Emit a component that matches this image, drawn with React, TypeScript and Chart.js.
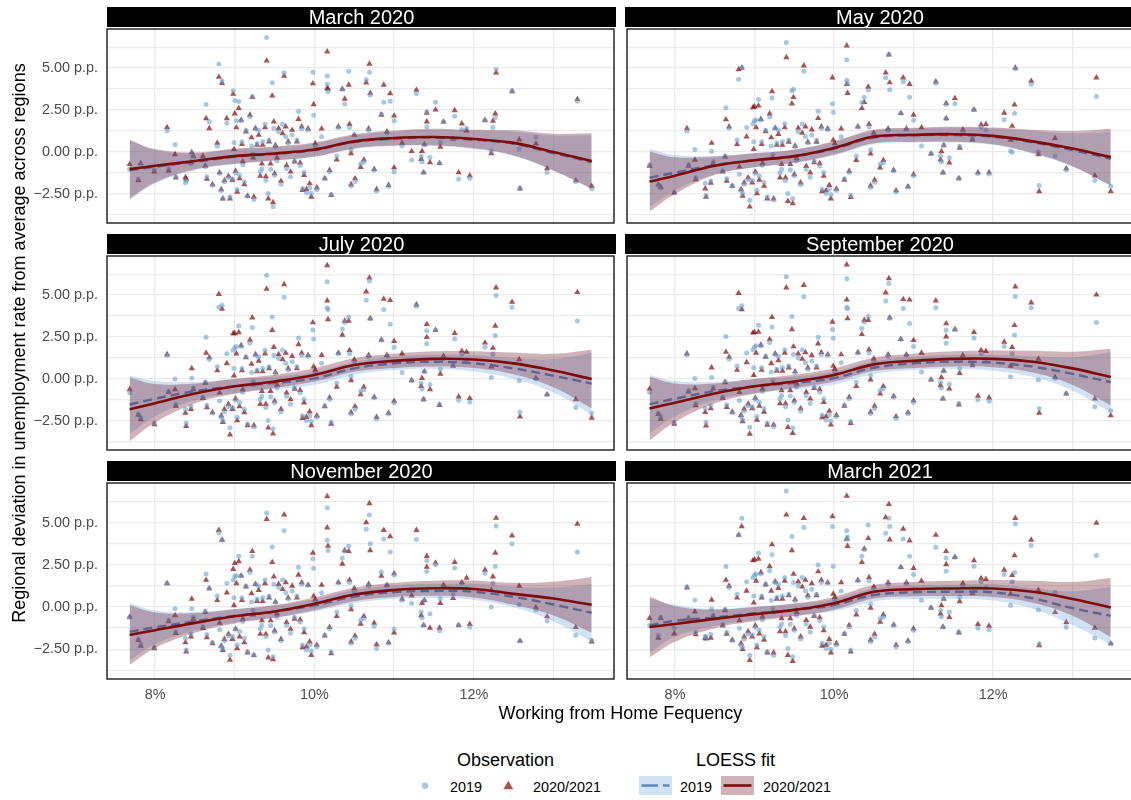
import React, { useEffect, useRef } from "react";
import { Chart, registerables } from "chart.js";
Chart.register(...registerables);

const FONT = '"Liberation Sans", Arial, Helvetica, sans-serif';
Chart.defaults.font.family = FONT;

// ---------- data ----------
const PANEL_TITLES = ["March 2020", "May 2020", "July 2020", "September 2020", "November 2020", "March 2021"];
const X_MIN = 7.396;
const X_MAX = 13.76;
const Y_MIN = -4.26;
const Y_MAX = 7.34;
const X_TICK_LABELS = ["8%", "10%", "12%"];
const LEGEND_OBS = ["2019", "2020/2021"];
const LEGEND_FIT = ["2019", "2020/2021"];

// Working from home frequency (%) of each region
const REGION_X = [
  7.68, 7.79, 7.82, 7.99, 8.15, 8.17, 8.25, 8.26, 8.38, 8.39,
  8.46, 8.45, 8.48, 8.60, 8.64, 8.63, 8.65, 8.68, 8.72, 8.78,
  8.80, 8.84, 8.81, 8.83, 8.85, 8.87, 8.90, 8.92, 8.94, 8.97,
  8.98, 9.00, 8.99, 9.01, 9.02, 9.03, 9.05, 9.06, 9.08, 9.09,
  9.10, 9.12, 9.14, 9.16, 9.19, 9.21, 9.22, 9.23, 9.24, 9.26,
  9.28, 9.30, 9.32, 9.34, 9.35, 9.38, 9.39, 9.40, 9.42, 9.43,
  9.45, 9.47, 9.48, 9.49, 9.50, 9.51, 9.53, 9.55, 9.58, 9.60,
  9.62, 9.64, 9.65, 9.67, 9.70, 9.72, 9.75, 9.78, 9.80, 9.82,
  9.84, 9.85, 9.87, 9.90, 9.92, 9.94, 9.96, 9.98, 9.99, 10.01,
  10.03, 10.09, 10.13, 10.16, 10.16, 10.17, 10.19, 10.21, 10.28, 10.30,
  10.35, 10.38, 10.43, 10.44, 10.46, 10.46, 10.50, 10.51, 10.58, 10.62,
  10.65, 10.68, 10.69, 10.70, 10.75, 10.78, 10.84, 10.87, 10.91, 10.93,
  10.95, 11.00, 11.00, 11.10, 11.22, 11.28, 11.34, 11.35, 11.37, 11.38,
  11.41, 11.41, 11.45, 11.52, 11.57, 11.58, 11.62, 11.74, 11.76, 11.81,
  11.85, 11.91, 11.95, 12.14, 12.22, 12.24, 12.28, 12.27, 12.48, 12.57,
  12.58, 12.78, 12.92, 13.28, 13.30, 13.48,
];

// March 2020
const MAR20_Y20 = [
  -0.75, -1.72, -0.69, -1.20, 1.46, -1.14, -0.16, -1.55, -1.53, -1.63,
  -0.03, -0.65, -0.26, -0.26, 1.99, -0.85, -1.63, 1.40, -1.95, 0.52,
  4.47, 4.10, -1.24, -2.25, -2.80, -1.72, 1.99, -1.45, -2.80, -1.70,
  3.45, 2.28, 0.15, -1.15, 1.45, -2.40, 2.60, -1.60, 1.90, 0.45,
  -0.60, -1.95, 1.20, -2.65, 2.20, 0.85, 3.26, -0.35, -2.70, 1.40,
  0.40, 1.00, -1.45, -0.72, 0.40, 1.45, -1.48, 5.44, -2.80, 0.60,
  -0.72, 3.35, -3.03, 1.80, -1.30, 0.38, -0.35, 1.40, -1.75, 1.10,
  4.53, 1.50, -0.82, 0.60, -1.20, 1.30, -0.60, 0.60, 1.95, -0.66,
  1.50, -2.30, -1.40, -2.25, 1.38, -1.90, -2.70, 4.08, 2.83, 0.50,
  -2.15, 1.38, -1.60, 5.99, 3.80, 3.75, -1.10, -2.60, -0.48, 1.50,
  3.74, 3.16, 4.00, 1.65, -0.10, -1.95, 1.00, -1.60, -0.92, -0.48,
  4.13, 1.38, 5.25, 3.50, -1.05, -2.25, 2.20, 4.00, 1.20, -2.00,
  3.49, 2.15, -0.94, 0.52, 0.03, 3.69, -0.45, 0.04, -1.24, 0.43,
  1.80, 2.32, -0.64, 2.51, -0.69, 0.29, 1.79, 0.76, 2.47, -1.24,
  1.68, 1.26, -1.43, 1.89, -0.10, 1.84, 4.72, 2.28, 3.61, 0.72,
  -2.21, 0.48, -1.00, -1.72, 3.14, -2.06,
];
const MAR20_Y19 = [
  -1.04, -1.63, -0.75, -1.08, 1.26, -1.00, 0.42, -1.50, -1.86, -1.72,
  -0.10, -0.70, -0.30, -0.46, 2.83, -0.90, -1.50, 1.79, -2.00, 0.33,
  5.25, 4.23, -1.30, -2.31, -2.80, -1.80, 1.70, -1.55, -2.70, -1.65,
  3.65, 3.06, 0.55, -1.25, 1.85, -2.25, 3.00, -1.40, 1.85, 0.60,
  -0.78, -1.80, 1.28, -2.65, 2.10, 0.35, 3.30, -0.15, -2.85, 1.38,
  0.50, 1.28, -1.20, -1.02, 0.60, 1.65, -1.70, 6.83, -2.50, 0.70,
  -1.05, 4.13, -3.29, 1.40, -1.40, 0.32, -0.55, 1.20, -1.95, 1.65,
  4.72, 0.90, -1.02, 0.52, -1.50, 1.00, -0.55, 0.70, 2.40, -0.82,
  1.38, -2.20, -1.22, -2.45, 1.32, -2.15, -2.50, 4.76, 2.18, 0.32,
  -2.25, 0.90, -1.60, 4.53, 4.04, 3.60, -1.20, -2.55, -0.25, 1.45,
  3.74, 2.86, 4.82, 1.45, 0.12, -2.05, 1.00, -1.78, -0.72, -0.62,
  4.30, 1.28, 4.76, 3.40, -1.10, -2.35, 2.25, 2.96, 1.14, -2.08,
  3.02, 1.85, -1.20, 0.36, -0.50, 3.49, -0.25, -0.60, -1.24, 0.42,
  1.50, 2.38, -0.35, 2.96, -0.69, 0.55, 1.79, 0.80, 2.12, -1.63,
  1.33, 1.40, -1.59, 1.89, 0.05, 1.45, 4.92, 2.05, 3.65, 0.17,
  -2.17, 0.87, -1.24, -1.78, 3.02, -2.21,
];

// May 2020
const MAY20_Y20 = [
  -0.85, -1.96, -2.10, -2.45, 1.40, -0.85, -0.49, -1.65, -2.21, -2.70,
  0.52, -1.86, -0.70, -1.20, 1.93, -0.30, -1.75, 1.50, -2.05, 0.45,
  4.92, 5.01, -0.90, -2.25, -2.65, -1.85, 0.90, -1.55, -3.29, -1.85,
  2.65, 2.70, 0.15, -1.20, 1.45, -2.50, 2.75, -1.68, 1.95, 0.45,
  -0.68, -2.05, 1.22, -2.80, 2.28, 0.85, 3.61, -0.38, -2.80, 1.42,
  0.40, 1.05, -1.55, -0.75, 0.40, 1.45, -1.55, 5.64, -2.95, 0.58,
  -0.75, 2.88, -3.09, 3.26, -1.35, 0.35, -0.38, 1.42, -1.85, 1.12,
  5.15, 1.50, -0.86, 0.58, -1.25, 1.32, -0.64, 0.58, 2.00, -0.70,
  1.50, -2.38, -1.45, -2.32, 1.38, -2.00, -2.80, 4.43, 0.70, 0.50,
  -2.22, 1.38, -1.68, 6.34, 4.04, 3.50, -1.15, -2.72, -0.50, 1.50,
  2.60, 2.96, 3.88, 1.65, -0.12, -2.03, 1.12, -1.68, -0.95, -0.50,
  4.72, 1.38, 5.80, 4.14, -1.10, -2.32, 2.30, 4.43, 1.38, -2.08,
  4.04, 2.20, -1.35, 1.45, -0.12, 4.19, -0.48, 0.02, -1.25, 0.37,
  2.90, 1.99, -0.65, 3.20, -1.59, 0.23, 1.32, 0.72, 2.51, -1.24,
  1.62, 1.65, -1.24, 2.32, 0.70, 1.54, 5.01, 2.81, 4.23, -0.16,
  -2.37, 0.81, -1.00, -1.43, 4.43, -2.37,
];
const MAY20_Y19 = [
  -0.79, -2.00, -2.17, -2.45, 1.24, -0.78, 0.13, -1.55, -1.88, -2.62,
  0.03, -1.75, -0.58, -1.15, 2.63, -0.25, -1.60, 1.42, -2.05, 0.70,
  4.33, 5.05, -1.35, -2.30, -2.50, -1.95, 1.45, -1.68, -2.90, -1.72,
  1.68, 1.85, 0.60, -1.28, 1.90, -2.30, 3.12, -1.45, 1.90, 0.60,
  -0.80, -1.82, 1.28, -2.70, 2.10, 0.35, 3.22, -0.18, -2.88, 1.40,
  0.52, 1.30, -1.25, -1.05, 0.60, 1.68, -1.72, 6.54, -2.50, 0.70,
  -1.08, 3.65, -2.80, 3.74, -1.43, 0.32, -0.55, 1.20, -1.97, 1.68,
  4.82, 0.90, -1.05, 0.52, -1.52, 1.00, -0.55, 0.70, 2.42, -0.85,
  1.40, -2.22, -1.24, -2.50, 1.33, -2.22, -2.56, 2.87, 2.36, 0.32,
  -2.30, 0.90, -1.62, 5.50, 4.27, 4.10, -1.24, -2.60, -0.26, 1.48,
  2.95, 3.26, 3.69, 1.48, 0.12, -2.12, 1.00, -1.82, -0.75, -0.65,
  4.43, 1.30, 5.83, 3.71, -1.14, -2.40, 2.30, 4.19, 1.33, -2.12,
  3.26, 1.88, -1.44, 0.35, -0.12, 4.10, -0.26, -0.62, -1.24, 0.42,
  2.83, 1.99, -0.36, 2.87, -1.59, 0.33, 1.20, 0.80, 2.51, -1.30,
  1.45, 1.30, -1.33, 1.93, 0.05, -0.03, 4.97, 2.28, 4.04, 0.00,
  -2.02, -0.26, -1.08, -1.72, 3.30, -2.06,
];

// July 2020
const JUL20_Y20 = [
  -0.64, -2.17, -2.44, -2.73, 1.46, -0.80, -0.64, -1.62, -2.05, -2.83,
  0.62, -1.82, -0.64, -1.17, 1.54, -0.25, -1.72, 1.27, -2.01, 0.49,
  5.06, 4.18, -0.84, -2.21, -2.60, -1.82, 0.92, -1.52, -3.34, -1.82,
  2.71, 2.71, 0.18, -1.19, 1.50, -2.50, 2.77, -1.66, 1.99, 0.49,
  -0.64, -2.01, 1.27, -2.79, 2.32, 0.88, 3.65, -0.35, -2.79, 1.46,
  0.43, 1.07, -1.52, -0.74, 0.43, 1.50, -1.52, 5.37, -2.93, 0.62,
  -0.74, 2.91, -3.28, 1.89, -1.33, 0.39, -0.35, 1.46, -1.82, 1.15,
  5.64, 1.54, -0.84, 0.62, -1.23, 1.35, -0.61, 0.62, 2.05, -0.68,
  1.54, -2.36, -1.43, -2.30, 1.41, -1.97, -2.79, 3.36, 0.72, 0.53,
  -2.21, 1.41, -1.66, 6.78, 4.67, 3.55, -1.13, -2.70, -0.49, 1.54,
  2.62, 3.46, 3.46, 1.70, -0.10, -2.01, 1.15, -1.66, -0.94, -0.49,
  5.21, 1.41, 6.04, 3.61, -1.09, -2.30, 2.32, 4.77, 1.41, -2.05,
  4.69, 2.25, -1.33, 1.50, -0.10, 4.43, -0.45, 0.04, -1.23, 0.43,
  2.48, 3.26, -0.64, 2.91, -1.58, 0.29, 1.35, 0.76, 2.73, -1.07,
  1.66, 1.60, -1.17, 2.15, 0.72, 1.84, 5.45, 3.16, 4.59, 1.15,
  -2.27, 0.04, -0.94, -1.23, 5.17, -2.34,
];
const JUL20_Y19 = [
  -0.84, -2.11, -2.30, -2.64, 1.39, -0.74, -0.02, -1.52, -1.82, -2.64,
  0.04, -1.66, -0.55, -1.13, 2.48, -0.21, -1.58, 1.15, -2.05, 0.72,
  4.28, 4.39, -1.33, -2.30, -2.50, -1.97, 1.50, -1.66, -2.93, -1.72,
  1.70, 1.86, 0.62, -1.27, 1.93, -2.30, 3.16, -1.43, 1.93, 0.62,
  -0.80, -1.82, 1.31, -2.70, 2.13, 0.37, 3.07, -0.16, -2.89, 1.41,
  0.53, 1.31, -1.23, -1.04, 0.62, 1.70, -1.72, 6.19, -2.50, 0.72,
  -1.07, 3.69, -2.99, 1.41, -1.43, 0.33, -0.55, 1.21, -1.97, 1.70,
  4.88, 0.92, -1.04, 0.53, -1.52, 1.02, -0.55, 0.72, 2.44, -0.84,
  1.41, -2.21, -1.23, -2.50, 1.35, -2.21, -2.56, 2.91, 2.38, 0.33,
  -2.30, 0.92, -1.62, 5.80, 4.24, 4.14, -1.23, -2.60, -0.25, 1.50,
  2.97, 3.36, 3.69, 1.50, 0.14, -2.11, 1.02, -1.82, -0.74, -0.64,
  4.69, 1.31, 5.84, 3.59, -1.13, -2.40, 2.32, 4.14, 1.35, -2.11,
  3.26, 1.89, -1.43, 0.37, -0.10, 4.34, -0.25, -0.61, -1.23, 0.43,
  2.09, 2.87, -0.35, 2.91, -1.52, 0.57, 1.21, 0.82, 2.38, -1.29,
  1.46, 1.11, -1.39, 1.89, 0.08, 1.46, 4.98, 2.58, 4.28, -0.12,
  -2.01, -0.02, -0.94, -1.72, 3.46, -2.07,
];

// September 2020
const SEP20_Y20 = [
  -0.60, -2.12, -2.40, -2.70, 1.50, -0.78, -0.58, -1.60, -2.00, -2.80,
  0.66, -1.78, -0.60, -1.15, 1.60, -0.22, -1.70, 1.30, -1.98, 0.52,
  5.12, 4.15, -0.80, -2.18, -2.56, -1.80, 0.98, -1.50, -3.30, -1.78,
  2.75, 2.78, 0.22, -1.15, 1.55, -2.46, 2.80, -1.62, 2.02, 0.52,
  -0.60, -1.98, 1.30, -2.76, 2.36, 0.92, 3.68, -0.30, -2.75, 1.50,
  0.47, 1.10, -1.48, -0.70, 0.47, 1.55, -1.48, 5.45, -2.90, 0.66,
  -0.70, 2.95, -3.25, 1.93, -1.30, 0.43, -0.30, 1.50, -1.78, 1.18,
  5.60, 1.58, -0.80, 0.66, -1.20, 1.40, -0.57, 0.66, 2.10, -0.64,
  1.58, -2.32, -1.40, -2.26, 1.45, -1.93, -2.75, 3.40, 0.76, 0.57,
  -2.18, 1.45, -1.62, 6.82, 4.72, 3.60, -1.10, -2.66, -0.45, 1.58,
  2.66, 3.50, 3.50, 1.74, -0.06, -1.98, 1.20, -1.62, -0.90, -0.45,
  5.15, 1.45, 6.00, 3.65, -1.05, -2.26, 2.36, 4.75, 1.45, -2.02,
  4.72, 2.30, -1.30, 1.55, -0.06, 4.67, -0.40, 0.08, -1.20, 0.47,
  2.52, 3.30, -0.60, 2.95, -1.55, 0.33, 1.40, 0.80, 2.78, -1.03,
  1.70, 1.65, -1.13, 2.20, 0.76, 1.88, 5.51, 3.20, 4.55, 1.18,
  -2.05, 0.08, -0.90, -1.20, 5.02, -2.20,
];
const SEP20_Y19 = [
  -0.80, -2.08, -2.26, -2.60, 1.43, -0.70, 0.02, -1.48, -1.78, -2.60,
  0.08, -1.62, -0.51, -1.10, 2.52, -0.18, -1.55, 1.18, -2.02, 0.76,
  4.20, 4.36, -1.30, -2.26, -2.46, -1.93, 1.54, -1.62, -2.90, -1.68,
  1.74, 1.90, 0.66, -1.23, 1.97, -2.26, 3.20, -1.40, 1.97, 0.66,
  -0.76, -1.78, 1.35, -2.66, 2.17, 0.41, 3.10, -0.12, -2.85, 1.45,
  0.57, 1.35, -1.20, -1.00, 0.66, 1.74, -1.68, 6.10, -2.46, 0.76,
  -1.03, 3.72, -2.95, 1.45, -1.40, 0.37, -0.51, 1.25, -1.93, 1.74,
  4.90, 0.96, -1.00, 0.57, -1.48, 1.06, -0.51, 0.76, 2.48, -0.80,
  1.45, -2.17, -1.20, -2.46, 1.40, -2.17, -2.52, 2.95, 2.42, 0.37,
  -2.26, 0.96, -1.58, 5.98, 4.28, 4.18, -1.20, -2.56, -0.21, 1.54,
  3.00, 3.40, 3.72, 1.54, 0.18, -2.08, 1.06, -1.78, -0.70, -0.60,
  4.65, 1.35, 5.70, 3.62, -1.10, -2.36, 2.36, 4.20, 1.40, -2.08,
  3.30, 1.93, -1.40, 0.41, -0.06, 4.24, -0.21, -0.57, -1.20, 0.47,
  2.13, 2.90, -0.31, 2.95, -1.48, 0.61, 1.25, 0.86, 2.42, -1.25,
  1.50, 1.15, -1.35, 1.93, 0.12, 1.50, 4.92, 2.62, 4.24, -0.08,
  -1.78, 0.02, -0.90, -1.68, 3.36, -1.91,
];

// November 2020
const NOV20_Y20 = [
  -0.59, -1.96, -2.30, -2.45, 1.40, -0.85, -0.50, -1.55, -2.10, -2.64,
  0.48, -1.75, -0.70, -1.25, 1.60, -0.30, -1.80, 1.10, -2.15, 0.40,
  4.55, 3.97, -0.95, -2.30, -2.55, -1.90, 0.85, -1.60, -3.13, -1.90,
  2.24, 2.60, 0.10, -1.30, 1.40, -2.45, 2.70, -1.75, 1.85, 0.40,
  -0.70, -2.10, 1.20, -2.70, 2.20, 0.80, 3.30, -0.45, -2.85, 1.35,
  0.35, 1.00, -1.60, -0.80, 0.35, 1.40, -1.60, 5.20, -3.00, 0.55,
  -0.80, 2.65, -3.10, 1.80, -1.40, 0.30, -0.40, 1.35, -1.90, 1.05,
  5.47, 1.45, -0.90, 0.55, -1.30, 1.25, -0.70, 0.55, 1.90, -0.75,
  1.45, -2.40, -1.50, -2.35, 1.30, -2.05, -2.85, 3.20, 0.65, 0.45,
  -2.25, 1.30, -1.70, 6.55, 4.70, 3.61, -1.20, -2.75, -0.55, 1.45,
  2.55, 3.35, 3.30, 1.60, -0.15, -2.05, 1.10, -1.70, -1.00, -0.55,
  5.00, 1.35, 6.13, 3.35, -0.95, -2.22, 1.84, 4.55, 1.30, -2.10,
  4.18, 1.98, -1.52, 0.48, 0.67, 4.55, -0.50, 0.23, -1.08, 0.40,
  2.37, 3.01, -1.24, 2.62, -1.24, 0.23, 1.30, 0.52, 2.66, -1.08,
  1.45, 1.72, -1.01, 2.20, 1.00, 1.80, 5.27, 3.20, 4.22, 1.24,
  -2.01, -0.03, -0.56, -1.20, 4.92, -2.05,
];
const NOV20_Y19 = [
  -0.60, -1.90, -2.20, -2.40, 1.40, -0.78, -0.10, -1.48, -1.85, -2.55,
  -0.10, -1.60, -0.60, -1.18, 1.95, -0.25, -1.62, 1.10, -2.10, 0.65,
  4.40, 3.97, -1.35, -2.35, -2.45, -2.00, 1.40, -1.70, -2.85, -1.75,
  1.60, 1.80, 0.55, -1.30, 1.85, -2.25, 3.00, -1.45, 1.85, 0.55,
  -0.85, -1.85, 1.25, -2.65, 2.05, 0.30, 3.00, -0.20, -2.85, 1.35,
  0.48, 1.25, -1.28, -1.08, 0.55, 1.62, -1.75, 5.56, -2.55, 0.65,
  -1.10, 3.55, -2.95, 1.35, -1.48, 0.28, -0.60, 1.15, -2.00, 1.62,
  4.52, 0.85, -1.08, 0.48, -1.55, 0.95, -0.60, 0.65, 2.35, -0.88,
  1.35, -2.25, -1.28, -2.55, 1.28, -2.25, -2.60, 2.85, 2.30, 0.28,
  -2.35, 0.85, -1.66, 5.87, 3.95, 3.35, -1.28, -2.64, -0.30, 1.45,
  2.90, 3.30, 3.60, 1.45, 0.08, -2.15, 0.95, -1.85, -0.78, -0.68,
  4.60, 1.25, 5.45, 3.74, -1.14, -2.45, 2.07, 4.03, 1.28, -2.15,
  3.26, 1.90, -1.30, 0.40, 0.23, 3.99, -0.30, -0.65, -1.08, 0.38,
  2.10, 2.76, -0.40, 2.50, -1.40, 0.50, 1.18, 0.72, 2.31, -1.08,
  1.40, 1.05, -1.18, 2.00, 0.00, 1.40, 4.80, 2.40, 3.75, 0.13,
  -2.01, -0.17, -0.82, -1.67, 3.26, -1.97,
];

// March 2021
const MAR21_Y20 = [
  -0.66, -1.83, -0.66, -1.58, 1.14, -0.70, -0.27, -1.63, -1.83, -1.87,
  0.42, -1.83, -0.55, -1.10, 1.60, -0.20, -1.60, 1.25, -1.95, 0.55,
  4.26, 4.77, -0.80, -2.15, -2.50, -1.75, 0.95, -1.45, -3.15, -1.75,
  2.75, 2.80, 0.25, -1.10, 1.55, -2.40, 2.85, -1.58, 2.05, 0.55,
  -0.58, -1.95, 1.32, -2.70, 2.40, 0.95, 3.70, -0.30, -2.70, 1.50,
  0.48, 1.12, -1.45, -0.68, 0.48, 1.55, -1.45, 5.46, -2.85, 0.68,
  -0.68, 3.35, -3.20, 1.95, -1.28, 0.45, -0.30, 1.50, -1.75, 1.20,
  5.26, 1.60, -0.78, 0.68, -1.18, 1.40, -0.55, 0.68, 2.10, -0.62,
  1.60, -2.30, -1.38, -2.25, 1.45, -1.90, -2.70, 5.36, 0.78, 0.58,
  -2.15, 1.45, -1.60, 6.57, 4.03, 3.60, -1.08, -2.65, -0.45, 1.58,
  2.65, 3.45, 4.07, 1.75, -0.05, -1.95, 1.20, -1.60, -0.88, -0.45,
  5.30, 1.45, 6.08, 3.99, -1.05, -2.25, 2.35, 4.62, 1.45, -2.00,
  3.93, 2.30, -1.28, 1.55, -0.05, 4.26, -0.40, 0.10, -1.18, 0.48,
  2.52, 3.30, -0.60, 2.95, -1.52, 0.33, 1.40, 0.80, 2.75, -1.02,
  1.70, 1.65, -1.12, 2.20, 0.78, 1.88, 5.26, 3.05, 3.97, 1.00,
  -2.28, -0.31, -0.91, -1.24, 4.97, -2.16,
];
const MAR21_Y19 = [
  -1.09, -1.67, -0.60, -1.24, 1.20, -0.62, 0.42, -1.50, -1.73, -1.80,
  -0.11, -1.62, -0.48, -1.05, 2.40, -0.15, -1.50, 1.15, -1.98, 0.75,
  4.26, 5.26, -1.25, -2.25, -2.40, -1.90, 1.50, -1.60, -2.85, -1.65,
  1.75, 1.90, 0.65, -1.20, 1.95, -2.25, 3.20, -1.38, 1.95, 0.65,
  -0.75, -1.75, 1.35, -2.65, 2.15, 0.40, 3.10, -0.10, -2.85, 1.45,
  0.58, 1.35, -1.18, -1.00, 0.65, 1.75, -1.68, 6.86, -2.45, 0.75,
  -1.02, 4.17, -2.95, 1.45, -1.38, 0.38, -0.50, 1.25, -1.90, 1.75,
  4.71, 0.95, -1.00, 0.58, -1.48, 1.05, -0.50, 0.75, 2.48, -0.80,
  1.45, -2.15, -1.18, -2.45, 1.40, -2.15, -2.50, 4.77, 2.42, 0.38,
  -2.25, 0.95, -1.58, 4.52, 4.03, 4.15, -1.18, -2.55, -0.20, 1.55,
  3.00, 3.40, 4.85, 1.55, 0.18, -2.05, 1.05, -1.78, -0.70, -0.60,
  4.36, 1.35, 5.26, 4.77, -1.10, -2.35, 2.35, 4.03, 1.40, -2.05,
  3.01, 1.93, -1.38, 0.40, -0.05, 3.54, -0.20, -0.58, -1.18, 0.48,
  2.12, 2.90, -0.30, 2.95, -1.48, 0.60, 1.25, 0.85, 2.42, -1.25,
  1.50, 1.15, -1.35, 1.93, 0.10, 1.50, 4.93, 2.04, 3.64, -0.17,
  -2.18, 0.87, -1.20, -1.83, 3.05, -2.16,
];

// LOESS fits (evaluated at LOESS_X) with standard-error half widths
const LOESS_X = [7.68, 8.0, 8.5, 9.0, 9.5, 10.0, 10.5, 11.0, 11.5, 12.0, 12.5, 13.0, 13.48];

const MAR20_FIT20 = [-1.04, -0.84, -0.55, -0.26, -0.10, 0.13, 0.62, 0.82, 0.88, 0.76, 0.53, -0.02, -0.55];
const MAR20_SE20 = [1.75, 1.0, 0.5, 0.45, 0.42, 0.42, 0.42, 0.45, 0.5, 0.55, 0.75, 1.1, 1.65];
const MAR20_FIT19 = [-1.1, -0.9, -0.6, -0.3, -0.13, 0.1, 0.58, 0.78, 0.84, 0.72, 0.48, -0.08, -0.62];
const MAR20_SE19 = [1.8, 1.0, 0.5, 0.45, 0.4, 0.4, 0.4, 0.43, 0.48, 0.55, 0.72, 1.05, 1.6];

const MAY20_FIT20 = [-1.78, -1.43, -0.84, -0.51, -0.26, 0.23, 0.91, 1.01, 1.05, 0.95, 0.62, 0.19, -0.32];
const MAY20_SE20 = [1.8, 1.1, 0.55, 0.42, 0.4, 0.4, 0.4, 0.42, 0.45, 0.5, 0.7, 1.05, 1.7];
const MAY20_FIT19 = [-1.55, -1.25, -0.8, -0.5, -0.28, 0.18, 0.85, 0.98, 1.0, 0.9, 0.56, 0.1, -0.42];
const MAY20_SE19 = [1.75, 1.05, 0.55, 0.42, 0.4, 0.4, 0.4, 0.42, 0.45, 0.5, 0.68, 1.0, 1.6];

const JUL20_FIT20 = [-1.82, -1.46, -0.88, -0.45, -0.16, 0.23, 0.82, 1.07, 1.19, 1.15, 0.92, 0.49, -0.02];
const JUL20_SE20 = [1.9, 1.15, 0.6, 0.45, 0.4, 0.4, 0.4, 0.42, 0.45, 0.5, 0.65, 1.0, 1.75];
const JUL20_FIT19 = [-1.54, -1.19, -0.74, -0.45, -0.25, 0.02, 0.62, 0.92, 1.02, 0.92, 0.62, 0.18, -0.29];
const JUL20_SE19 = [1.75, 1.05, 0.55, 0.42, 0.38, 0.38, 0.38, 0.4, 0.42, 0.48, 0.62, 1.0, 1.85];

const SEP20_FIT20 = [-1.78, -1.43, -0.88, -0.45, -0.16, 0.23, 0.86, 1.07, 1.19, 1.19, 1.02, 0.62, 0.10];
const SEP20_SE20 = [1.9, 1.15, 0.6, 0.45, 0.4, 0.4, 0.4, 0.42, 0.45, 0.5, 0.65, 1.0, 1.7];
const SEP20_FIT19 = [-1.52, -1.19, -0.74, -0.45, -0.25, 0.04, 0.66, 0.92, 1.02, 0.96, 0.72, 0.29, -0.21];
const SEP20_SE19 = [1.75, 1.05, 0.55, 0.42, 0.38, 0.38, 0.38, 0.4, 0.42, 0.48, 0.62, 1.0, 1.8];

const NOV20_FIT20 = [-1.66, -1.37, -0.94, -0.55, -0.26, 0.19, 0.74, 1.01, 1.11, 1.07, 0.78, 0.5, 0.13];
const NOV20_SE20 = [1.76, 1.05, 0.58, 0.42, 0.38, 0.38, 0.4, 0.42, 0.45, 0.5, 0.65, 1.0, 1.65];
const NOV20_FIT19 = [-1.47, -1.2, -0.85, -0.52, -0.27, 0.1, 0.62, 0.88, 0.95, 0.9, 0.6, 0.15, -0.34];
const NOV20_SE19 = [1.7, 1.0, 0.55, 0.4, 0.36, 0.36, 0.38, 0.4, 0.42, 0.48, 0.62, 1.0, 1.7];

const MAR21_FIT20 = [-1.18, -1.0, -0.70, -0.42, -0.17, 0.22, 0.9, 1.06, 1.1, 1.1, 0.9, 0.48, -0.03];
const MAR21_SE20 = [1.8, 1.05, 0.55, 0.42, 0.38, 0.38, 0.4, 0.42, 0.45, 0.5, 0.65, 1.0, 1.75];
const MAR21_FIT19 = [-1.09, -0.81, -0.62, -0.37, -0.17, 0.12, 0.71, 0.87, 0.9, 0.87, 0.51, -0.07, -0.52];
const MAR21_SE19 = [1.6, 0.95, 0.5, 0.4, 0.36, 0.36, 0.38, 0.4, 0.42, 0.48, 0.62, 1.0, 1.7];

const PANELS = [
  { title: PANEL_TITLES[0], y19: MAR20_Y19, y20: MAR20_Y20, fit19: MAR20_FIT19, se19: MAR20_SE19, fit20: MAR20_FIT20, se20: MAR20_SE20 },
  { title: PANEL_TITLES[1], y19: MAY20_Y19, y20: MAY20_Y20, fit19: MAY20_FIT19, se19: MAY20_SE19, fit20: MAY20_FIT20, se20: MAY20_SE20 },
  { title: PANEL_TITLES[2], y19: JUL20_Y19, y20: JUL20_Y20, fit19: JUL20_FIT19, se19: JUL20_SE19, fit20: JUL20_FIT20, se20: JUL20_SE20 },
  { title: PANEL_TITLES[3], y19: SEP20_Y19, y20: SEP20_Y20, fit19: SEP20_FIT19, se19: SEP20_SE19, fit20: SEP20_FIT20, se20: SEP20_SE20 },
  { title: PANEL_TITLES[4], y19: NOV20_Y19, y20: NOV20_Y20, fit19: NOV20_FIT19, se19: NOV20_SE19, fit20: NOV20_FIT20, se20: NOV20_SE20 },
  { title: PANEL_TITLES[5], y19: MAR21_Y19, y20: MAR21_Y20, fit19: MAR21_FIT19, se19: MAR21_SE19, fit20: MAR21_FIT20, se20: MAR21_SE20 },
];

// ---------- styles / layout ----------
const COL_LEFT = [107, 625];
const COL_RIGHT = [616, 1135];
const ROW_TOP = [27, 254, 481];
const PANEL_H = 198;
const STRIP_H = 20;
const MARGIN = 2;
const Y_AXIS_W = 107;
const X_AXIS_H = 30;

const GRID = "#EBEBEB";
const TICK_COLOR = "#4D4D4D";
const CIRCLE_COLOR = "rgba(100,160,210,0.58)";
const TRI_COLOR = "rgba(130,10,10,0.70)";
const BAND19 = "rgba(100,160,215,0.30)";
const BAND20 = "rgba(110,20,35,0.32)";
const LINE19 = "#5F86C0";
const LINE20 = "#7F0A0A";

const borderPlugin = {
  id: "panelBorder",
  afterDatasetsDraw(chart: any) {
    const { ctx, chartArea: a } = chart;
    ctx.save();
    ctx.strokeStyle = "#1A1A1A";
    ctx.lineWidth = 1.4;
    ctx.strokeRect(a.left, a.top, a.right - a.left, a.bottom - a.top);
    ctx.restore();
  },
};

function yLabel(v: number) {
  const k = v / 2.5;
  if (Math.abs(k - Math.round(k)) > 1e-6) return "";
  const s = Math.abs(v).toFixed(2);
  return (v < 0 ? "\u2212" : "") + s + " p.p.";
}
function xLabel(v: number) {
  const idx = [8, 10, 12].findIndex((t) => Math.abs(t - v) < 1e-6);
  return idx >= 0 ? X_TICK_LABELS[idx] : "";
}

function Panel({ idx }: { idx: number }) {
  const ref = useRef<HTMLCanvasElement | null>(null);
  const col = idx % 2;
  const row = Math.floor(idx / 2);
  const showY = col === 0;
  const showX = row === 2;
  const left = showY ? 0 : COL_LEFT[col] - MARGIN;
  const top = ROW_TOP[row] - MARGIN;
  const width = COL_RIGHT[col] + MARGIN - left;
  const height = PANEL_H + MARGIN + (showX ? X_AXIS_H : MARGIN);

  useEffect(() => {
    const p = PANELS[idx];
    const pts = (ys: number[]) => REGION_X.map((x, i) => ({ x, y: ys[i] }));
    const curve = (fit: number[], se: number[], s: number) =>
      LOESS_X.map((x, i) => ({ x, y: fit[i] + s * se[i] }));
    const invisible = {
      type: "line" as const,
      borderColor: "rgba(0,0,0,0)",
      borderWidth: 0,
      pointRadius: 0,
      tension: 0.4,
    };
    const chart = new Chart(ref.current as HTMLCanvasElement, {
      type: "scatter",
      data: {
        datasets: [
          { type: "scatter", data: pts(p.y20), pointStyle: "triangle", pointRadius: 3.6, backgroundColor: TRI_COLOR, borderWidth: 0, order: 7 },
          { type: "scatter", data: pts(p.y19), pointStyle: "circle", pointRadius: 2.5, backgroundColor: CIRCLE_COLOR, borderWidth: 0, order: 6 },
          { ...invisible, data: curve(p.fit19, p.se19, -1), fill: false, order: 5 },
          { ...invisible, data: curve(p.fit19, p.se19, 1), fill: "-1", backgroundColor: BAND19, order: 5 },
          { type: "line", data: curve(p.fit19, p.se19, 0), borderColor: LINE19, borderWidth: 2.4, borderDash: [9, 5], pointRadius: 0, fill: false, tension: 0.4, order: 4 },
          { ...invisible, data: curve(p.fit20, p.se20, -1), fill: false, order: 3 },
          { ...invisible, data: curve(p.fit20, p.se20, 1), fill: "-1", backgroundColor: BAND20, order: 3 },
          { type: "line", data: curve(p.fit20, p.se20, 0), borderColor: LINE20, borderWidth: 2.6, pointRadius: 0, fill: false, tension: 0.4, order: 2 },
        ] as any,
      },
      options: {
        animation: false,
        responsive: false,
        maintainAspectRatio: false,
        events: [],
        layout: {
          padding: { left: showY ? 0 : MARGIN, right: MARGIN, top: MARGIN, bottom: showX ? 0 : MARGIN },
        },
        plugins: { legend: { display: false }, tooltip: { enabled: false } },
        scales: {
          x: {
            type: "linear",
            min: X_MIN,
            max: X_MAX,
            border: { display: false },
            grid: { color: GRID, lineWidth: 1.3, drawTicks: false },
            ticks: {
              display: showX,
              stepSize: 1,
              includeBounds: false,
              autoSkip: false,
              maxRotation: 0,
              padding: 7,
              color: TICK_COLOR,
              font: { family: FONT, size: 14.4 },
              callback: (v: any) => xLabel(Number(v)),
            },
            afterFit: (s: any) => {
              s.height = showX ? X_AXIS_H : 0;
              s.paddingLeft = 0;
              s.paddingRight = 0;
              s.paddingTop = 0;
              s.paddingBottom = 0;
            },
          },
          y: {
            type: "linear",
            min: Y_MIN,
            max: Y_MAX,
            border: { display: false },
            grid: { color: GRID, lineWidth: 1.3, drawTicks: false },
            ticks: {
              display: showY,
              stepSize: 1.25,
              includeBounds: false,
              autoSkip: false,
              padding: 9,
              color: TICK_COLOR,
              font: { family: FONT, size: 14.4 },
              callback: (v: any) => yLabel(Number(v)),
            },
            afterFit: (s: any) => {
              s.width = showY ? Y_AXIS_W : 0;
              s.paddingLeft = 0;
              s.paddingRight = 0;
              s.paddingTop = 0;
              s.paddingBottom = 0;
            },
          },
        },
      } as any,
      plugins: [borderPlugin],
    });
    return () => chart.destroy();
  }, [idx]);

  return (
    <canvas
      ref={ref}
      width={width}
      height={height}
      style={{ position: "absolute", left, top, width, height }}
    />
  );
}

function Strip({ idx }: { idx: number }) {
  const col = idx % 2;
  const row = Math.floor(idx / 2);
  return (
    <div
      style={{
        position: "absolute",
        left: COL_LEFT[col],
        top: ROW_TOP[row] - STRIP_H,
        width: COL_RIGHT[col] - COL_LEFT[col],
        height: STRIP_H,
        background: "#000",
        color: "#fff",
        fontSize: 20,
        lineHeight: "20px",
        textAlign: "center",
        whiteSpace: "nowrap",
      }}
    >
      {PANELS[idx].title}
    </div>
  );
}

const txt = (left: number, top: number, size: number, s: string) => (
  <div
    style={{
      position: "absolute",
      left,
      top,
      fontSize: size,
      lineHeight: size + "px",
      color: "#000",
      whiteSpace: "nowrap",
    }}
  >
    {s}
  </div>
);

export default function App() {
  return (
    <div
      style={{
        position: "fixed",
        left: 0,
        top: 0,
        width: 1131,
        height: 800,
        overflow: "hidden",
        background: "#fff",
        fontFamily: FONT,
      }}
    >
      {PANELS.map((_, i) => (
        <Panel key={"p" + i} idx={i} />
      ))}
      {PANELS.map((_, i) => (
        <Strip key={"s" + i} idx={i} />
      ))}
      {/* y axis title */}
      <div
        style={{
          position: "absolute",
          left: 19 - 350,
          top: 343 - 9,
          width: 700,
          height: 18,
          fontSize: 18,
          lineHeight: "18px",
          textAlign: "center",
          transform: "rotate(-90deg)",
          transformOrigin: "50% 50%",
          whiteSpace: "nowrap",
          color: "#000",
        }}
      >
        Regional deviation in unemployment rate from average across regions
      </div>
      {/* x axis title */}
      <div
        style={{
          position: "absolute",
          left: 120.5,
          top: 704,
          width: 1000,
          fontSize: 18,
          lineHeight: "18px",
          textAlign: "center",
          color: "#000",
          whiteSpace: "nowrap",
        }}
      >
        Working from Home Fequency
      </div>
      {/* legend */}
      {txt(457, 751, 18, "Observation")}
      {txt(696, 751, 18, "LOESS fit")}
      <svg style={{ position: "absolute", left: 415, top: 775 }} width={110} height={22}>
        <circle cx={10} cy={10.7} r={3.3} fill={CIRCLE_COLOR} />
        <polygon points="93.3,5.7 88.3,14.3 98.3,14.3" fill={TRI_COLOR} />
      </svg>
      {txt(450, 780, 14.4, LEGEND_OBS[0])}
      {txt(533, 780, 14.4, LEGEND_OBS[1])}
      <svg style={{ position: "absolute", left: 639, top: 776 }} width={33} height={19}>
        <rect x={0} y={0} width={33} height={19} fill={BAND19} />
        <line x1={2.5} y1={9.5} x2={30.5} y2={9.5} stroke={LINE19} strokeWidth={2.4} strokeDasharray="16.5 5" />
      </svg>
      {txt(680, 780, 14.4, LEGEND_FIT[0])}
      <svg style={{ position: "absolute", left: 721, top: 776 }} width={33} height={19}>
        <rect x={0} y={0} width={33} height={19} fill={BAND20} />
        <line x1={2.5} y1={9.5} x2={30.5} y2={9.5} stroke={LINE20} strokeWidth={2.6} />
      </svg>
      {txt(763, 780, 14.4, LEGEND_FIT[1])}
    </div>
  );
}
